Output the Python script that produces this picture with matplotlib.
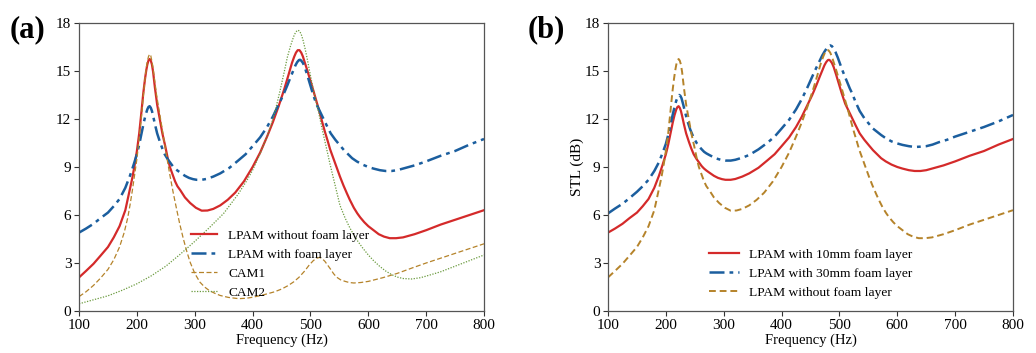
import matplotlib
matplotlib.use('Agg')
import matplotlib.pyplot as plt

plt.rcParams['font.family'] = ['Liberation Serif', 'DejaVu Serif']

# LPAM without foam layer
f_nofoam = [100, 112, 125, 137, 150, 160, 170, 180, 186, 192, 196, 200, 204, 208, 211, 214,
            216, 218, 220, 222, 224, 226, 228, 231, 235, 240, 244, 249, 253, 257, 262, 266,
            270, 275, 283, 292, 302, 312, 322, 332, 344, 357, 370, 385, 400, 413, 425, 435,
            445, 455, 462, 468, 472, 475, 478, 481, 484, 487, 490, 494, 499, 504, 508, 512,
            516, 520, 525, 530, 534, 540, 546, 551, 557, 563, 568, 575, 581, 586, 593, 600,
            609, 618, 627, 637, 648, 660, 680, 700, 725, 750, 775, 800]
stl_nofoam = [2.1, 2.5, 2.95, 3.45, 4.0, 4.6, 5.3, 6.3, 7.3, 8.3, 9.1, 10.0, 11.1, 12.5, 13.6, 14.5,
              15.0, 15.4, 15.65, 15.75, 15.65, 15.4, 14.95, 14.0, 12.9, 11.9, 11.1, 10.3, 9.6, 9.0, 8.5, 8.1,
              7.8, 7.55, 7.1, 6.75, 6.45, 6.27, 6.28, 6.38, 6.6, 6.95, 7.4, 8.1, 9.0, 9.9, 10.9, 11.8,
              12.8, 13.9, 14.75, 15.5, 15.9, 16.15, 16.3, 16.3, 16.15, 15.9, 15.55, 15.1, 14.5, 13.9, 13.4, 12.9,
              12.4, 11.85, 11.2, 10.6, 10.1, 9.5, 8.9, 8.4, 7.85, 7.35, 6.95, 6.45, 6.1, 5.85, 5.55, 5.3,
              5.05, 4.8, 4.65, 4.55, 4.55, 4.6, 4.8, 5.05, 5.4, 5.7, 6.0, 6.3]

# LPAM with foam layer (10mm)
f_10mm = [100, 112, 125, 137, 150, 160, 170, 180, 188, 194, 200, 204, 208, 212, 215, 218,
          220, 222, 224, 226, 228, 231, 235, 240, 244, 248, 253, 257, 262, 266, 270, 275,
          283, 290, 297, 303, 312, 320, 332, 344, 360, 375, 388, 400, 413, 425, 435, 445,
          453, 460, 466, 470, 474, 477, 480, 482, 484, 487, 490, 494, 499, 504, 510, 516,
          522, 528, 535, 543, 551, 558, 565, 572, 580, 590, 600, 609, 620, 630, 640, 650,
          665, 680, 700, 725, 750, 775, 800]
stl_10mm = [4.9, 5.15, 5.45, 5.8, 6.15, 6.55, 7.0, 7.7, 8.45, 9.1, 9.8, 10.4, 11.1, 11.8, 12.25, 12.6,
            12.75, 12.8, 12.7, 12.5, 12.2, 11.7, 11.1, 10.55, 10.15, 9.8, 9.5, 9.3, 9.05, 8.9, 8.78, 8.65,
            8.45, 8.32, 8.24, 8.2, 8.2, 8.25, 8.4, 8.6, 8.95, 9.4, 9.8, 10.3, 10.85, 11.5, 12.15, 12.9,
            13.5, 14.1, 14.65, 15.0, 15.35, 15.55, 15.68, 15.7, 15.65, 15.5, 15.25, 14.8, 14.2, 13.6, 12.95, 12.5,
            12.05, 11.6, 11.1, 10.7, 10.35, 10.05, 9.8, 9.55, 9.35, 9.15, 9.0, 8.9, 8.8, 8.75, 8.75, 8.8,
            8.95, 9.1, 9.35, 9.7, 10.0, 10.4, 10.75]

# LPAM with 30mm foam layer
f_30mm = [100, 112, 125, 137, 150, 160, 170, 180, 188, 194, 200, 204, 208, 212, 215, 218,
          221, 223, 225, 227, 230, 233, 237, 242, 246, 250, 254, 257, 262, 266, 270, 275,
          283, 290, 297, 303, 312, 320, 332, 344, 360, 375, 388, 400, 413, 425, 435, 445,
          453, 460, 466, 470, 474, 478, 481, 484, 487, 490, 493, 497, 501, 505, 510, 514,
          518, 522, 528, 535, 543, 551, 558, 565, 572, 580, 590, 600, 609, 620, 630, 640,
          650, 661, 672, 686, 700, 725, 750, 775, 800]
stl_30mm = [6.1, 6.4, 6.7, 7.05, 7.45, 7.8, 8.2, 8.75, 9.3, 9.85, 10.45, 11.0, 11.65, 12.3, 12.75, 13.15,
            13.4, 13.5, 13.45, 13.3, 12.9, 12.45, 11.9, 11.35, 11.0, 10.7, 10.45, 10.3, 10.1, 9.95, 9.85, 9.75,
            9.6, 9.5, 9.43, 9.4, 9.4, 9.45, 9.58, 9.75, 10.1, 10.5, 10.9, 11.4, 11.95, 12.6, 13.25, 14.0,
            14.65, 15.2, 15.65, 15.95, 16.2, 16.42, 16.55, 16.6, 16.55, 16.4, 16.2, 15.85, 15.45, 15.05, 14.6, 14.25,
            13.9, 13.6, 13.05, 12.5, 12.05, 11.7, 11.4, 11.2, 11.0, 10.8, 10.6, 10.47, 10.38, 10.3, 10.25, 10.27,
            10.3, 10.4, 10.55, 10.7, 10.9, 11.2, 11.5, 11.85, 12.25]

# CAM1
f_cam1 = [100, 112, 125, 137, 150, 160, 170, 178, 184, 188, 192, 196, 200, 204, 208, 211,
          214, 216, 218, 220, 222, 224, 226, 228, 230, 234, 237, 240, 245, 251, 257, 263,
          269, 274, 280, 286, 292, 300, 309, 317, 325, 335, 344, 358, 376, 390, 400, 412,
          425, 438, 450, 461, 471, 480, 490, 498, 505, 511, 516, 520, 525, 530, 535, 540,
          545, 552, 560, 567, 575, 587, 600, 625, 650, 675, 700, 725, 750, 775, 800]
stl_cam1 = [0.9, 1.2, 1.6, 2.05, 2.6, 3.2, 4.0, 4.9, 5.8, 6.6, 7.5, 8.5, 9.5, 10.8, 12.2, 13.4,
            14.5, 15.15, 15.6, 15.9, 16.05, 15.95, 15.6, 15.15, 14.6, 13.5, 12.85, 12.2, 11.1, 9.75, 8.5, 7.35,
            6.3, 5.45, 4.55, 3.75, 3.05, 2.35, 1.8, 1.5, 1.28, 1.1, 0.97, 0.85, 0.77, 0.8, 0.86, 0.95,
            1.07, 1.2, 1.37, 1.58, 1.82, 2.1, 2.5, 2.88, 3.15, 3.3, 3.35, 3.28, 3.1, 2.85, 2.6, 2.33,
            2.12, 1.95, 1.85, 1.78, 1.75, 1.78, 1.85, 2.08, 2.35, 2.68, 3.0, 3.3, 3.6, 3.9, 4.2]

# CAM2
f_cam2 = [100, 125, 150, 175, 200, 225, 250, 275, 300, 325, 350, 375, 390, 400, 412, 425,
          433, 440, 447, 455, 460, 465, 469, 472, 475, 478, 481, 484, 487, 491, 495, 499,
          504, 508, 512, 516, 520, 525, 530, 534, 539, 543, 547, 551, 560, 568, 575, 582,
          590, 600, 609, 620, 630, 640, 650, 660, 675, 690, 700, 725, 750, 775, 800]
stl_cam2 = [0.45, 0.7, 0.95, 1.3, 1.7, 2.2, 2.8, 3.55, 4.35, 5.2, 6.1, 7.3, 8.15, 8.8, 9.75, 10.9,
            11.75, 12.65, 13.7, 15.0, 15.85, 16.5, 16.95, 17.25, 17.45, 17.55, 17.5, 17.3, 16.95, 16.35, 15.65, 14.9,
            14.0, 13.35, 12.75, 12.1, 11.4, 10.6, 9.8, 9.15, 8.4, 7.8, 7.2, 6.6, 5.8, 5.2, 4.75, 4.35,
            3.95, 3.5, 3.15, 2.78, 2.5, 2.28, 2.12, 2.03, 2.0, 2.08, 2.18, 2.45, 2.8, 3.15, 3.5]

xticks = [100, 200, 300, 400, 500, 600, 700, 800]
yticks = [0, 3, 6, 9, 12, 15, 18]

red = '#d42a2a'
blue = '#1b5e9e'
brown = '#b5832a'
green = '#6b9b3f'
dashdot = (0, (6, 2, 1.5, 2))

fig = plt.figure(figsize=(10.36, 3.53), dpi=100)
ax1 = fig.add_axes([0.0763, 0.119, 0.3909, 0.8159])
ax2 = fig.add_axes([0.5869, 0.119, 0.3909, 0.8159])

# (a)
ax1.plot(f_nofoam, stl_nofoam, color=red, lw=1.6, label='LPAM without foam layer')
ax1.plot(f_10mm, stl_10mm, color=blue, lw=1.8, linestyle=dashdot, label='LPAM with foam layer')
ax1.plot(f_cam1, stl_cam1, color=brown, lw=0.9, linestyle=(0, (4, 2)), label='CAM1')
ax1.plot(f_cam2, stl_cam2, color=green, lw=0.9, linestyle=(0, (1, 1.2)), label='CAM2')

# (b)
ax2.plot(f_10mm, stl_10mm, color=red, lw=1.6, label='LPAM with 10mm foam layer')
ax2.plot(f_30mm, stl_30mm, color=blue, lw=1.8, linestyle=dashdot, label='LPAM with 30mm foam layer')
ax2.plot(f_nofoam, stl_nofoam, color=brown, lw=1.4, linestyle=(0, (3.5, 2)), label='LPAM without foam layer')

for ax in (ax1, ax2):
    ax.set_xlim(100, 800)
    ax.set_ylim(0, 18)
    ax.set_xticks(xticks)
    ax.set_yticks(yticks)
    ax.tick_params(labelsize=11, length=3.5, width=0.8, color='#333333', pad=2)
    ax.set_xlabel('Frequency (Hz)', fontsize=10.5, labelpad=1)
    for s in ax.spines.values():
        s.set_color('#555555')
        s.set_linewidth(0.9)

ax2.set_ylabel('STL (dB)', fontsize=11, labelpad=0.5)

ax1.legend(loc='lower left', bbox_to_anchor=(0.276, 0.042), frameon=False, fontsize=9.6,
           handlelength=2.0, handletextpad=0.82, labelspacing=0.5, borderpad=0, borderaxespad=0)
ax2.legend(loc='lower left', bbox_to_anchor=(0.25, 0.042), frameon=False, fontsize=9.7,
           handlelength=2.2, handletextpad=0.75, labelspacing=0.5, borderpad=0, borderaxespad=0)

fig.text(0.009, 0.915, '(a)', fontsize=22, fontweight='bold', va='center', ha='left')
fig.text(0.509, 0.915, '(b)', fontsize=22, fontweight='bold', va='center', ha='left')

fig.savefig('out.png', dpi=100)
